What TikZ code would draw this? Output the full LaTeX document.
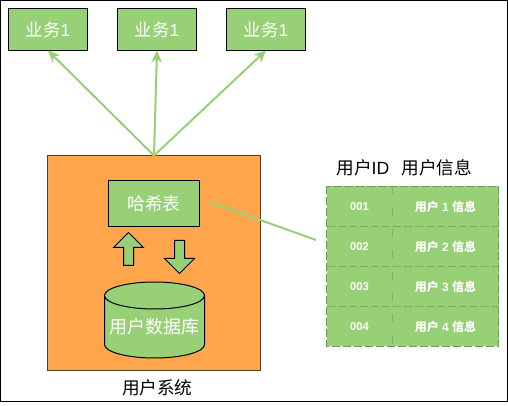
\documentclass[tikz,border=0pt]{standalone}
\usepackage{fontspec}
\setmainfont{Liberation Sans}
\newfontfamily\cjk{Noto Sans CJK SC}
\usetikzlibrary{shapes.geometric,shapes.arrows,arrows.meta,positioning}
\definecolor{bizgreen}{HTML}{97D077}
\definecolor{sysorange}{HTML}{FFA64D}
\definecolor{sysedge}{HTML}{4D4030}
\definecolor{celledge}{HTML}{6F9A58}

\begin{document}
\begin{tikzpicture}[x=0.75pt,y=-0.75pt,
  biz/.style={draw,fill=bizgreen,line width=0.75pt,outer sep=0pt,minimum width=59.25pt,minimum height=31.5pt,font=\fontsize{13}{15}\selectfont,text=white,inner sep=0pt},
  link/.style={draw=bizgreen,line width=1.5pt,-{Stealth[length=9pt,width=8pt]}},
  blockarrow/.style={draw,fill=bizgreen,line width=0.75pt,single arrow,single arrow head extend=7.5pt,single arrow tip angle=90,minimum width=21.75pt,minimum height=24.75pt,inner xsep=0pt,inner ysep=3.375pt,outer sep=0pt},
  idcell/.style={fill=bizgreen,minimum width=49.5pt,minimum height=30pt,inner sep=0pt,outer sep=0pt,font=\bfseries\fontsize{8.5}{10}\selectfont,text=white},
  infocell/.style={idcell,minimum width=79.5pt,font=\bfseries\fontsize{9}{11}\selectfont},
  tableline/.style={draw=celledge,line width=0.75pt,dash pattern=on 6pt off 2.25pt},
  plainlabel/.style={font=\fontsize{13.25}{15}\selectfont,inner sep=0pt}]
  \useasboundingbox (0,0) rectangle (508,406);
  \draw[line width=0.75pt] (0.5,0.5) rectangle (507,401.5);
  % top row
  \node[biz] (biz1) at (48,29.5) {{\cjk 业务}1};
  \node[biz,right=22.5pt of biz1] (biz2) {{\cjk 业务}1};
  \node[biz,right=22.5pt of biz2] (biz3) {{\cjk 业务}1};
  % user system
  \node[draw=sysedge,fill=sysorange,line width=0.75pt,outer sep=0pt,minimum width=159.75pt,minimum height=161.5pt] (sys) at (154,263.25) {};
  \node[biz,minimum width=68.25pt,minimum height=34.75pt,font=\cjk\fontsize{13.25}{15}\selectfont] (hash) at (154,203.75) {哈希表};
  \node[blockarrow,rotate=90] (up) at (128.5,251.5) {};
  \node[blockarrow,rotate=-90] (down) at (179.5,254.5) {};
  \node[cylinder,shape border rotate=90,aspect=0.3,draw,fill=bizgreen,line width=0.75pt,outer sep=0pt,minimum width=75pt,minimum height=57pt,inner sep=0pt,font=\cjk\fontsize{13.5}{16}\selectfont,text=white] (db) at (154.5,327) {用户数据库};
  \node[plainlabel,below=6pt of sys,xshift=2.5pt] (syslabel) {\cjk 用户系统};
  % table
  \node[idcell] (id1) at (359.5,206.5) {001};
  \node[idcell,below=0pt of id1] (id2) {002};
  \node[idcell,below=0pt of id2] (id3) {003};
  \node[idcell,below=0pt of id3] (id4) {004};
  \node[infocell,right=0pt of id1] (info1) {{\cjk 用户} 1 {\cjk 信息}};
  \node[infocell,right=0pt of id2] (info2) {{\cjk 用户} 2 {\cjk 信息}};
  \node[infocell,right=0pt of id3] (info3) {{\cjk 用户} 3 {\cjk 信息}};
  \node[infocell,right=0pt of id4] (info4) {{\cjk 用户} 4 {\cjk 信息}};
  \foreach \row in {1,2,3}
    \draw[tableline,draw=celledge!70!bizgreen] (id\row.south west) -- (info\row.south east);
  \draw[tableline,draw=celledge!50!bizgreen,dash pattern=on 6pt off 10pt] (id1.north east) -- (id4.south east);
  \draw[tableline] (id1.north west) rectangle (info4.south east);
  \node[plainlabel,above=7.5pt of id1,xshift=2.5pt] (idhead) {{\cjk 用户}ID};
  \node[plainlabel,above=7.5pt of info1,xshift=-6.5pt] (infohead) {\cjk 用户信息};
  % connectors
  \draw[link] (sys.north) -- (biz1.south);
  \draw[link] (sys.north) -- (biz2.south);
  \draw[link] (sys.north) -- (biz3.south);
  \coordinate (hashout) at (210,202);
  \coordinate (tablein) at (316,240);
  \draw[draw=bizgreen,line width=1.5pt] (hashout) -- (tablein);
\end{tikzpicture}
\end{document}
